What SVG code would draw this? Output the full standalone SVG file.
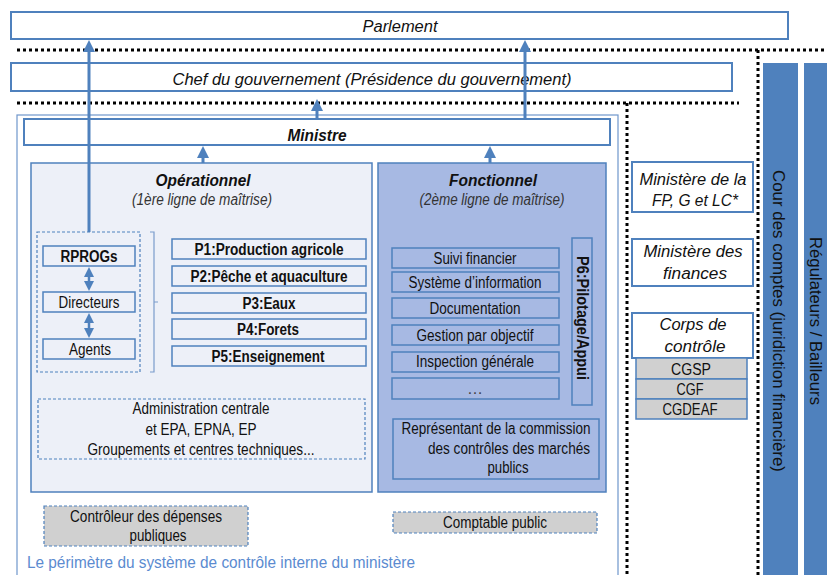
<svg xmlns="http://www.w3.org/2000/svg" width="827" height="575" viewBox="0 0 827 575">
<defs>
<style>
text{font-family:"Liberation Sans",Arial,sans-serif;fill:#111;font-size:16px;}
.b{fill:#fff;stroke:#4f81bd;stroke-width:2;}
.s{fill:none;stroke:#4f81bd;stroke-width:1.5;}
.g{fill:#d0d0d0;stroke:#4f81bd;stroke-width:1.5;}
.gd{fill:#d0d0d0;stroke:#4f81bd;stroke-width:1.2;stroke-dasharray:3 2;}
.dot{stroke:#000;stroke-width:3;stroke-dasharray:3 3;fill:none;}
.it{font-style:italic;}
.bi{font-style:italic;font-weight:bold;}
.bd{font-weight:bold;}
.c{text-anchor:middle;}
.sub{font-style:italic;fill:#333;}
.ar{stroke:#4f81bd;stroke-width:3;fill:none;}
</style>
<marker id="ah" markerWidth="4" markerHeight="4" refX="2" refY="2" orient="auto" markerUnits="strokeWidth"><path d="M0,0 L4,2 L0,4 z" fill="#4f81bd"/></marker>
<marker id="as" markerWidth="4" markerHeight="4" refX="2" refY="2" orient="auto-start-reverse" markerUnits="strokeWidth"><path d="M0,0 L4,2 L0,4 z" fill="#4f81bd"/></marker>
</defs>
<rect width="827" height="575" fill="#fff"/>

<g id="separators">
<line class="dot" x1="17" y1="50" x2="827" y2="50"/>
<line class="dot" x1="17" y1="103" x2="739" y2="103"/>
<line class="dot" x1="627" y1="103" x2="627" y2="575"/>
<line class="dot" x1="758" y1="50" x2="758" y2="575"/>
</g>

<g id="parlement"><rect class="b" x="11" y="12" width="777" height="27"/><text class="it c" x="400" y="32" textLength="75" lengthAdjust="spacingAndGlyphs">Parlement</text></g>
<g id="chef"><rect class="b" x="11" y="63" width="721" height="28"/><text class="it c" x="372" y="85" textLength="399" lengthAdjust="spacingAndGlyphs">Chef du gouvernement (Présidence du gouvernement)</text></g>

<g id="perimetre"><rect x="17" y="115" width="601" height="470" fill="none" stroke="#6f97cc" stroke-width="1.2"/>
<text x="27" y="568" textLength="388" lengthAdjust="spacingAndGlyphs" style="fill:#5b8bd0">Le périmètre du système de contrôle interne du ministère</text></g>

<g id="ministre"><rect class="b" x="24" y="119" width="586" height="26"/><text class="bi c" x="317" y="141" textLength="59" lengthAdjust="spacingAndGlyphs">Ministre</text></g>

<g id="operationnel"><rect x="31" y="163" width="341" height="329" fill="#edf0f8" stroke="#4f81bd" stroke-width="1.5"/>
<text class="bi c" x="203" y="186" textLength="95" lengthAdjust="spacingAndGlyphs">Opérationnel</text>
<text class="sub c" x="202" y="205" textLength="140" lengthAdjust="spacingAndGlyphs">(1ère ligne de maîtrise)</text></g>

<g id="hierarchie"><rect x="37" y="232" width="103" height="140" fill="none" stroke="#4f81bd" stroke-width="1.2" stroke-dasharray="3 2"/></g>
<g id="rprogs"><rect class="s" x="43" y="246" width="92" height="20"/><text class="bd c" x="89" y="262" textLength="57" lengthAdjust="spacingAndGlyphs">RPROGs</text></g>
<g id="directeurs"><rect class="s" x="43" y="292" width="92" height="20"/><text class="c" x="89" y="308" textLength="61" lengthAdjust="spacingAndGlyphs">Directeurs</text></g>
<g id="agents"><rect class="s" x="43" y="339" width="92" height="20"/><text class="c" x="90" y="355" textLength="42" lengthAdjust="spacingAndGlyphs">Agents</text></g>

<g id="accolade"><path d="M150,232 H154 V372 H150 M154,302 H158" fill="none" stroke="#7a9ccc" stroke-width="1.2"/></g>

<g id="p1"><rect class="s" x="172" y="239" width="194" height="20"/><text class="bd c" x="269" y="255" textLength="149" lengthAdjust="spacingAndGlyphs">P1:Production agricole</text></g>
<g id="p2"><rect class="s" x="172" y="266" width="194" height="20"/><text class="bd c" x="269" y="282" textLength="157" lengthAdjust="spacingAndGlyphs">P2:Pêche et aquaculture</text></g>
<g id="p3"><rect class="s" x="172" y="293" width="194" height="20"/><text class="bd c" x="269" y="309" textLength="53" lengthAdjust="spacingAndGlyphs">P3:Eaux</text></g>
<g id="p4"><rect class="s" x="172" y="319" width="194" height="20"/><text class="bd c" x="268" y="335" textLength="62" lengthAdjust="spacingAndGlyphs">P4:Forets</text></g>
<g id="p5"><rect class="s" x="172" y="346" width="194" height="20"/><text class="bd c" x="268" y="362" textLength="113" lengthAdjust="spacingAndGlyphs">P5:Enseignement</text></g>

<g id="administration"><rect x="38" y="399" width="327" height="60" fill="none" stroke="#4f81bd" stroke-width="1.2" stroke-dasharray="3 2"/>
<text class="c" x="201" y="414" textLength="137" lengthAdjust="spacingAndGlyphs">Administration centrale</text>
<text class="c" x="201" y="435" textLength="111" lengthAdjust="spacingAndGlyphs">et EPA, EPNA, EP</text>
<text class="c" x="201" y="455" textLength="227" lengthAdjust="spacingAndGlyphs">Groupements et centres techniques...</text></g>

<g id="controleur"><rect class="gd" x="44" y="506" width="204" height="40"/>
<text class="c" x="146" y="522" textLength="152" lengthAdjust="spacingAndGlyphs">Contrôleur des dépenses</text>
<text class="c" x="158" y="541" textLength="57" lengthAdjust="spacingAndGlyphs">publiques</text></g>

<g id="fonctionnel"><rect x="378" y="163" width="228" height="329" fill="#a7b9e3" stroke="#4f81bd" stroke-width="1.5"/>
<text class="bi c" x="493" y="186" textLength="88" lengthAdjust="spacingAndGlyphs">Fonctionnel</text>
<text class="sub c" x="492" y="205" textLength="145" lengthAdjust="spacingAndGlyphs">(2ème ligne de maîtrise)</text></g>

<g id="suivi"><rect class="s" x="392" y="248" width="167" height="20"/><text class="c" x="475" y="264" textLength="83" lengthAdjust="spacingAndGlyphs">Suivi financier</text></g>
<g id="systeme"><rect class="s" x="392" y="272" width="167" height="20"/><text class="c" x="475" y="288" textLength="133" lengthAdjust="spacingAndGlyphs">Système d’information</text></g>
<g id="documentation"><rect class="s" x="392" y="298" width="167" height="20"/><text class="c" x="475" y="314" textLength="91" lengthAdjust="spacingAndGlyphs">Documentation</text></g>
<g id="gestion"><rect class="s" x="392" y="325" width="167" height="20"/><text class="c" x="475" y="341" textLength="117" lengthAdjust="spacingAndGlyphs">Gestion par objectif</text></g>
<g id="inspection"><rect class="s" x="392" y="352" width="167" height="20"/><text class="c" x="475" y="367" textLength="118" lengthAdjust="spacingAndGlyphs">Inspection générale</text></g>
<g id="autres"><rect class="s" x="392" y="378" width="167" height="21"/><text class="c" x="475" y="394" style="fill:#444">…</text></g>

<g id="p6"><rect class="s" x="572" y="238" width="20" height="167"/><text class="bd c" transform="translate(577,318) rotate(90)" textLength="124" lengthAdjust="spacingAndGlyphs">P6:Pilotage/Appui</text></g>

<g id="representant"><rect class="s" x="393" y="419" width="206" height="60"/>
<text class="c" x="496" y="434" textLength="189" lengthAdjust="spacingAndGlyphs">Représentant de la commission</text>
<text class="c" x="509" y="454" textLength="162" lengthAdjust="spacingAndGlyphs">des contrôles des marchés</text>
<text class="c" x="508" y="473" textLength="41" lengthAdjust="spacingAndGlyphs">publics</text></g>

<g id="comptable"><rect class="gd" x="393" y="512" width="204" height="21"/><text class="c" x="495" y="528" textLength="104" lengthAdjust="spacingAndGlyphs">Comptable public</text></g>

<g id="fp"><rect class="b" x="632" y="162" width="121" height="50"/><text class="it c" x="693" y="185" textLength="107" lengthAdjust="spacingAndGlyphs">Ministère de la</text><text class="it c" x="695" y="206" textLength="86" lengthAdjust="spacingAndGlyphs">FP, G et LC*</text></g>
<g id="finances"><rect class="b" x="632" y="239" width="121" height="47"/><text class="it c" x="693" y="257" textLength="99" lengthAdjust="spacingAndGlyphs">Ministère des</text><text class="it c" x="695" y="279" textLength="64" lengthAdjust="spacingAndGlyphs">finances</text></g>
<g id="corps"><rect class="b" x="632" y="313" width="121" height="45"/><text class="it c" x="693" y="330" textLength="67" lengthAdjust="spacingAndGlyphs">Corps de</text><text class="it c" x="695" y="352" textLength="61" lengthAdjust="spacingAndGlyphs">contrôle</text></g>
<g id="cgsp"><rect class="g" x="636" y="358" width="111" height="21"/><text class="c" x="691" y="375" textLength="40" lengthAdjust="spacingAndGlyphs">CGSP</text></g>
<g id="cgf"><rect class="g" x="636" y="379" width="111" height="20"/><text class="c" x="690" y="395" textLength="27" lengthAdjust="spacingAndGlyphs">CGF</text></g>
<g id="cgdeaf"><rect class="g" x="636" y="399" width="111" height="20"/><text class="c" x="690" y="415" textLength="55" lengthAdjust="spacingAndGlyphs">CGDEAF</text></g>

<g id="cour"><rect x="763" y="63" width="35" height="512" fill="#4f81bd"/><text class="c" transform="translate(773,321) rotate(90)" textLength="302" lengthAdjust="spacingAndGlyphs" style="font-size:17px">Cour des comptes (juridiction financière)</text></g>
<g id="regulateurs"><rect x="804" y="63" width="23" height="512" fill="#4f81bd"/><text class="c" transform="translate(810,321) rotate(90)" textLength="168" lengthAdjust="spacingAndGlyphs" style="font-size:17px">Régulateurs / Bailleurs</text></g>

<g id="connectors">
<line class="ar" x1="89" y1="232" x2="89" y2="46" marker-end="url(#ah)"/>
<line class="ar" x1="525" y1="119" x2="525" y2="46" marker-end="url(#ah)"/>
<line class="ar" x1="317" y1="119" x2="317" y2="105" marker-end="url(#ah)"/>
<line class="ar" x1="203" y1="163" x2="203" y2="152" marker-end="url(#ah)"/>
<line class="ar" x1="490" y1="163" x2="490" y2="152" marker-end="url(#ah)"/>
<line class="ar" x1="89" y1="272" x2="89" y2="286" marker-start="url(#as)" marker-end="url(#ah)" style="stroke-width:2.5"/>
<line class="ar" x1="89" y1="318" x2="89" y2="333" marker-start="url(#as)" marker-end="url(#ah)" style="stroke-width:2.5"/>
</g>
</svg>
